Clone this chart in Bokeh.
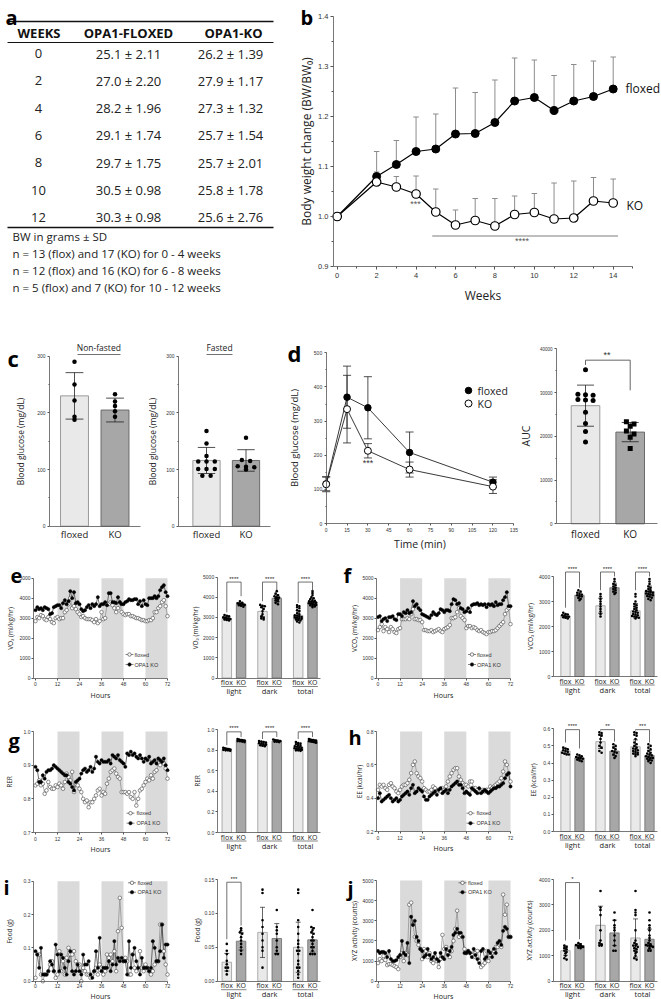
from bokeh.plotting import figure
from bokeh.layouts import column, row
from bokeh.models import Range1d, FixedTicker, PrintfTickFormatter
from bokeh.core.properties import value
from bokeh.embed import file_html
from bokeh.resources import INLINE

SANS = "Liberation Sans"
OPEN = "Open Sans"
LIGHT_FILL, LIGHT_LINE = "#e9e9e9", "#9b9b9b"
DARK_FILL, DARK_LINE = "#a7a7a7", "#6b6b6b"
BAND = "#dadada"

# ======================= DATA =======================
tbl_header = ["WEEKS", "OPA1-FLOXED", "OPA1-KO"]
tbl_weeks = [0, 2, 4, 6, 8, 10, 12]
tbl_flox_mean = [25.1, 27.0, 28.2, 29.1, 29.7, 30.5, 30.3]
tbl_flox_sd = [2.11, 2.20, 1.96, 1.74, 1.75, 0.98, 0.98]
tbl_ko_mean = [26.2, 27.9, 27.3, 25.7, 25.7, 25.8, 25.6]
tbl_ko_sd = [1.39, 1.17, 1.32, 1.54, 2.01, 1.78, 2.76]
tbl_notes = ["BW in grams \u00b1 SD",
             "n = 13 (flox) and 17 (KO) for 0 - 4 weeks",
             "n = 12 (flox) and 16 (KO) for 6 - 8 weeks",
             "n = 5 (flox) and 7 (KO) for 10 - 12 weeks"]

bw_weeks = [0, 2, 3, 4, 5, 6, 7, 8, 9, 10, 11, 12, 13, 14]
bw_flox = [1.00, 1.080, 1.104, 1.130, 1.135, 1.165, 1.166, 1.188, 1.231, 1.238, 1.212, 1.231, 1.240, 1.255]
bw_flox_err = [0.0, 0.050, 0.048, 0.069, 0.070, 0.092, 0.082, 0.085, 0.086, 0.075, 0.070, 0.073, 0.071, 0.064]
bw_ko = [1.00, 1.069, 1.059, 1.045, 1.009, 0.983, 0.992, 0.981, 1.004, 1.008, 0.995, 0.997, 1.031, 1.027]
bw_ko_err = [0.0, 0.020, 0.021, 0.036, 0.046, 0.030, 0.044, 0.055, 0.037, 0.038, 0.072, 0.074, 0.047, 0.048]

c_groups = ["floxed", "KO"]
c_nf_mean = [230, 205]
c_nf_sd = [41, 21]
c_nf_flox = [290, 250, 222, 193, 188]
c_nf_ko = [233, 220, 212, 203, 193]
c_f_mean = [116, 116]
c_f_sd = [23, 19]
c_f_flox = [168, 146, 124, 114, 114, 114, 101, 101, 101, 89, 89]
c_f_ko = [156, 117, 115, 106, 105, 104, 100]

d_time = [0, 15, 30, 60, 120]
d_flox = [116, 370, 339, 208, 121]
d_flox_sd = [20, 91, 91, 60, 15]
d_ko = [115, 335, 213, 158, 108]
d_ko_sd = [22, 99, 21, 22, 20]
auc_mean = [27000, 20960]
auc_sd = [4700, 2200]
auc_flox = [35200, 29600, 29500, 29400, 28400, 28300, 28200, 25500, 22900, 21100, 18700]
auc_ko = [23300, 22800, 22300, 21200, 20500, 19800, 17200]

hours = list(range(73))
dark_start = [12, 36, 60]
dark_len = 12

e_flox = [2850, 3050, 3000, 3150, 3100, 2950, 2900, 3050, 2950, 2800, 2750, 3000, 3050,
          2950, 3000, 3000, 3300, 3400, 3700, 4000, 3500, 3600, 3450, 3300, 3200,
          3050, 3100, 3000, 2950, 2950, 2950, 2900, 2800, 2950, 2750, 2850, 3300,
          2950, 3000, 3700, 3700, 3800, 3650, 3500, 3300, 3500, 3800, 3300, 3200,
          3150, 3200, 3200, 3100, 3100, 3050, 3000, 3000, 2950, 2900, 2900, 2850,
          2850, 2900, 2900, 3000, 3300, 3300, 3500, 3600, 3800, 3900, 3600, 3100]
e_ko = [3400, 3550, 3450, 3500, 3400, 3550, 3500, 3450, 3200, 3250, 3550, 3600, 3650,
        3650, 3500, 3750, 3900, 3700, 3850, 4350, 4000, 4300, 3750, 3800, 3700,
        3450, 3350, 3400, 3550, 3650, 3500, 3700, 3600, 3700, 4050, 3600, 3700,
        3700, 3800, 3650, 4250, 4250, 3800, 3800, 3750, 4050, 3800, 3700, 3700,
        3800, 3850, 3950, 3900, 3900, 3950, 3950, 3700, 3850, 3600, 3900, 3700,
        3650, 4000, 4000, 4000, 4100, 4000, 4100, 4400, 4550, 4650, 4300, 4100]
f_flox = [2400, 2550, 2700, 2350, 2550, 2450, 2300, 2550, 2450, 2300, 2250, 2450, 2500,
          2950, 2950, 2950, 3000, 2950, 3200, 3450, 2950, 2950, 2900, 2900, 2800,
          2400, 2400, 2350, 2350, 2400, 2300, 2350, 2400, 2450, 2350, 2300, 2450,
          2500, 2550, 2650, 3000, 3000, 3050, 3300, 3500, 3100, 3000, 2900, 2500,
          2600, 2600, 2500, 2550, 2500, 2400, 2350, 2400, 2300, 2250, 2200, 2300,
          2300, 2350, 2350, 2400, 2500, 2600, 2700, 2800, 3200, 3400, 3500, 2700]
f_ko = [3050, 3100, 2850, 2950, 3000, 2850, 3050, 3050, 3100, 2950, 2900, 3200, 3200,
        3100, 3300, 3250, 3400, 3250, 3300, 3850, 3600, 3700, 3500, 3400, 3200,
        3150, 3100, 3050, 3000, 3150, 3300, 3200, 3150, 3250, 3450, 3400, 3300,
        3400, 3400, 3350, 3700, 3950, 3900, 3700, 3750, 3500, 3450, 3300, 3350,
        3500, 3300, 3650, 3700, 3700, 3750, 3650, 3700, 3650, 3700, 3550, 3700,
        3650, 3700, 3600, 3800, 3650, 3700, 3700, 3900, 4050, 4300, 3600, 3600]
g_flox = [0.840, 0.845, 0.855, 0.840, 0.845, 0.815, 0.825, 0.850, 0.835, 0.830, 0.830, 0.840, 0.835,
          0.845, 0.840, 0.830, 0.850, 0.875, 0.865, 0.855, 0.880, 0.820, 0.845, 0.840, 0.830,
          0.820, 0.800, 0.790, 0.795, 0.775, 0.790, 0.790, 0.800, 0.810, 0.825, 0.830, 0.810,
          0.820, 0.815, 0.845, 0.860, 0.880, 0.885, 0.890, 0.875, 0.865, 0.860, 0.820, 0.820,
          0.820, 0.815, 0.820, 0.805, 0.800, 0.820, 0.780, 0.800, 0.825, 0.830, 0.840, 0.850,
          0.860, 0.855, 0.870, 0.860, 0.880, 0.885, 0.905, 0.900, 0.910, 0.905, 0.890, 0.860]
g_ko = [0.895, 0.885, 0.850, 0.850, 0.870, 0.860, 0.880, 0.885, 0.885, 0.890, 0.900, 0.895, 0.890,
        0.885, 0.880, 0.875, 0.870, 0.870, 0.850, 0.845, 0.835, 0.825, 0.850, 0.855, 0.860,
        0.875, 0.885, 0.890, 0.880, 0.885, 0.895, 0.880, 0.890, 0.925, 0.910, 0.905, 0.915,
        0.910, 0.910, 0.910, 0.915, 0.905, 0.930, 0.925, 0.920, 0.930, 0.915, 0.910, 0.905,
        0.895, 0.935, 0.930, 0.940, 0.930, 0.935, 0.925, 0.920, 0.930, 0.920, 0.910, 0.920,
        0.915, 0.925, 0.905, 0.910, 0.915, 0.905, 0.920, 0.915, 0.910, 0.920, 0.900, 0.885]
h_flox = [0.45, 0.48, 0.47, 0.48, 0.46, 0.45, 0.48, 0.49, 0.47, 0.46, 0.44, 0.43, 0.45,
          0.47, 0.48, 0.48, 0.49, 0.51, 0.55, 0.60, 0.62, 0.55, 0.53, 0.52, 0.50,
          0.46, 0.45, 0.44, 0.44, 0.45, 0.47, 0.46, 0.44, 0.45, 0.44, 0.46, 0.45,
          0.47, 0.50, 0.53, 0.55, 0.57, 0.58, 0.58, 0.53, 0.51, 0.49, 0.48, 0.48,
          0.47, 0.50, 0.50, 0.46, 0.46, 0.45, 0.44, 0.44, 0.45, 0.44, 0.45, 0.45,
          0.47, 0.46, 0.47, 0.48, 0.49, 0.50, 0.52, 0.56, 0.62, 0.60, 0.55, 0.50]
h_ko = [0.40, 0.43, 0.38, 0.39, 0.40, 0.41, 0.42, 0.40, 0.38, 0.39, 0.40, 0.38, 0.39,
        0.41, 0.42, 0.43, 0.44, 0.42, 0.46, 0.48, 0.43, 0.44, 0.46, 0.45, 0.44,
        0.41, 0.39, 0.39, 0.41, 0.42, 0.43, 0.44, 0.42, 0.45, 0.46, 0.43, 0.44,
        0.45, 0.43, 0.45, 0.47, 0.48, 0.49, 0.50, 0.48, 0.48, 0.46, 0.43, 0.44,
        0.43, 0.42, 0.46, 0.45, 0.44, 0.43, 0.46, 0.43, 0.44, 0.45, 0.44, 0.43,
        0.44, 0.45, 0.46, 0.46, 0.47, 0.47, 0.48, 0.49, 0.52, 0.54, 0.55, 0.47]
i_flox = [0.01, 0.08, 0.08, 0.02, 0.00, 0.02, 0.02, 0.03, 0.05, 0.06, 0.03, 0.01, 0.02,
          0.09, 0.03, 0.06, 0.02, 0.07, 0.10, 0.08, 0.08, 0.09, 0.06, 0.05, 0.05,
          0.00, 0.04, 0.03, 0.02, 0.02, 0.01, 0.02, 0.03, 0.04, 0.02, 0.05, 0.04,
          0.02, 0.03, 0.08, 0.07, 0.08, 0.06, 0.09, 0.03, 0.15, 0.25, 0.16, 0.06,
          0.07, 0.06, 0.02, 0.02, 0.08, 0.04, 0.03, 0.04, 0.09, 0.04, 0.03, 0.05,
          0.04, 0.03, 0.02, 0.03, 0.05, 0.06, 0.06, 0.17, 0.17, 0.09, 0.05, 0.02]
i_ko = [0.09, 0.08, 0.04, 0.10, 0.02, 0.02, 0.02, 0.03, 0.06, 0.05, 0.03, 0.11, 0.08,
        0.03, 0.08, 0.07, 0.04, 0.02, 0.06, 0.09, 0.03, 0.02, 0.03, 0.05, 0.03,
        0.02, 0.08, 0.05, 0.05, 0.06, 0.02, 0.01, 0.03, 0.09, 0.04, 0.13, 0.03,
        0.04, 0.04, 0.04, 0.06, 0.03, 0.05, 0.12, 0.05, 0.07, 0.06, 0.07, 0.06,
        0.06, 0.02, 0.12, 0.04, 0.08, 0.10, 0.06, 0.04, 0.02, 0.07, 0.04, 0.04,
        0.04, 0.03, 0.04, 0.12, 0.10, 0.06, 0.06, 0.09, 0.17, 0.07, 0.11, 0.11]
j_flox = [900, 1100, 1000, 1250, 1050, 800, 850, 850, 800, 750, 700, 600, 1200,
          1400, 1000, 1400, 1300, 3800, 3900, 2800, 2200, 2000, 1800, 1600, 1100,
          1600, 1500, 1200, 1400, 1000, 900, 1200, 1000, 700, 1100, 2300, 1600,
          1700, 1400, 1200, 1500, 2000, 2600, 3500, 2200, 2300, 2200, 1600, 1400,
          1500, 1400, 1300, 1200, 1400, 1500, 1000, 700, 800, 900, 1500, 1000,
          1300, 1400, 1500, 1700, 1700, 1800, 1700, 4300, 3300, 3800, 2200, 2200]
j_ko = [1500, 1400, 1450, 1450, 1400, 1200, 1500, 1100, 1000, 1000, 1050, 1200, 1300,
        2000, 1400, 1300, 1900, 900, 3200, 2800, 3000, 2200, 2000, 1600, 1500,
        1200, 1300, 1600, 1300, 1100, 1200, 1400, 1100, 1000, 1400, 1200, 1100,
        1600, 1300, 1500, 1700, 2300, 2400, 2600, 2400, 2400, 2200, 1400, 1400,
        1500, 1400, 1200, 1600, 1300, 1100, 900, 1500, 1600, 1100, 1200, 1500,
        1400, 1200, 1600, 1400, 1900, 2000, 1800, 2500, 2700, 2600, 2200, 2200]

bar_tick_labels = ["flox", "KO", "flox", "KO", "flox", "KO"]
phase_labels = ["light", "dark", "total"]

e_mean = [2950, 3650, 3300, 3950, 3100, 3760]
e_sd = [90, 70, 270, 180, 240, 190]
e_dots = [[3120, 3080, 3050, 3000, 2980, 2960, 2940, 2920, 2900, 2870, 2850],
          [3800, 3720, 3700, 3690, 3670, 3650, 3640, 3620, 3600, 3580, 3530],
          [3620, 3580, 3550, 3500, 3420, 3300, 3150, 3050, 2980, 2950, 2900],
          [4300, 4180, 4100, 4050, 4000, 3980, 3950, 3900, 3850, 3800, 3720, 3650],
          [3600, 3550, 3500, 3450, 3350, 3300, 3200, 3150, 3100, 3080, 3050, 3020, 3000, 2980, 2950, 2930, 2900, 2880, 2850, 2800, 2750],
          [4300, 4200, 4100, 4000, 3950, 3900, 3850, 3820, 3800, 3780, 3750, 3730, 3700, 3680, 3660, 3640, 3620, 3600, 3570, 3540, 3500]]
e_sig = ["****", "****", "****"]
e_sig_y = 4750
e_sig_left = [3250, 3800, 3720]
e_sig_right = [4050, 4350, 4300]

f_mean = [2420, 3250, 2830, 3550, 2630, 3400]
f_sd = [70, 120, 300, 180, 290, 220]
f_dots = [[2550, 2500, 2480, 2450, 2430, 2400, 2390, 2370, 2350, 2320],
          [3450, 3400, 3350, 3300, 3280, 3250, 3220, 3200, 3150, 3100, 3050],
          [3300, 3200, 3100, 3000, 2900, 2800, 2700, 2600, 2500, 2400],
          [3900, 3800, 3700, 3650, 3600, 3550, 3500, 3450, 3400, 3350, 3300],
          [3300, 3200, 3000, 2900, 2850, 2800, 2750, 2700, 2650, 2600, 2580, 2550, 2500, 2480, 2450, 2420, 2400, 2380, 2350, 2320],
          [3900, 3800, 3700, 3600, 3550, 3500, 3450, 3420, 3400, 3380, 3350, 3320, 3300, 3280, 3250, 3220, 3200, 3150, 3100, 3050]]
f_sig = ["****", "****", "****"]
f_sig_y = 4180
f_sig_left = [2750, 3450, 3450]
f_sig_right = [3550, 4000, 4000]

g_mean = [0.81, 0.895, 0.865, 0.89, 0.83, 0.89]
g_sd = [0.01, 0.01, 0.02, 0.01, 0.03, 0.01]
g_dots = [[0.825, 0.82, 0.815, 0.812, 0.81, 0.808, 0.805, 0.80, 0.80, 0.795],
          [0.91, 0.905, 0.90, 0.90, 0.895, 0.895, 0.89, 0.89, 0.885, 0.88],
          [0.89, 0.885, 0.88, 0.875, 0.87, 0.865, 0.86, 0.855, 0.85, 0.845, 0.84],
          [0.905, 0.90, 0.895, 0.895, 0.89, 0.89, 0.885, 0.885, 0.88],
          [0.88, 0.87, 0.865, 0.86, 0.85, 0.845, 0.84, 0.835, 0.83, 0.825, 0.82, 0.815, 0.81, 0.81, 0.805, 0.80, 0.80, 0.795],
          [0.91, 0.905, 0.90, 0.90, 0.895, 0.895, 0.89, 0.89, 0.89, 0.885, 0.885, 0.88, 0.88, 0.875]]
g_sig = ["****", "****", "****"]
g_sig_y = 0.98
g_sig_left = [0.85, 0.91, 0.91]
g_sig_right = [0.93, 0.93, 0.93]

h_mean = [0.47, 0.43, 0.525, 0.47, 0.495, 0.445]
h_sd = [0.015, 0.01, 0.04, 0.025, 0.04, 0.03]
h_dots = [[0.49, 0.485, 0.48, 0.475, 0.47, 0.465, 0.46, 0.455, 0.45, 0.45],
          [0.45, 0.445, 0.44, 0.435, 0.43, 0.43, 0.425, 0.42, 0.415, 0.41],
          [0.58, 0.575, 0.565, 0.56, 0.54, 0.52, 0.50, 0.49, 0.47, 0.46],
          [0.51, 0.50, 0.49, 0.48, 0.47, 0.465, 0.46, 0.45, 0.44, 0.43],
          [0.58, 0.575, 0.565, 0.56, 0.54, 0.52, 0.51, 0.50, 0.49, 0.485, 0.48, 0.475, 0.47, 0.465, 0.46, 0.455, 0.45, 0.45, 0.44],
          [0.51, 0.50, 0.49, 0.48, 0.47, 0.46, 0.455, 0.45, 0.445, 0.44, 0.435, 0.43, 0.43, 0.425, 0.42, 0.415, 0.41, 0.40]]
h_sig = ["****", "**", "***"]
h_sig_y = 0.595
h_sig_left = [0.52, 0.59, 0.59]
h_sig_right = [0.485, 0.525, 0.52]

i_mean = [0.028, 0.059, 0.072, 0.063, 0.050, 0.061]
i_sd = [0.013, 0.013, 0.037, 0.022, 0.037, 0.018]
i_dots = [[0.055, 0.045, 0.04, 0.03, 0.025, 0.02, 0.02, 0.015, 0.01],
          [0.078, 0.075, 0.072, 0.07, 0.065, 0.06, 0.055, 0.05, 0.045, 0.04],
          [0.135, 0.13, 0.09, 0.08, 0.07, 0.06, 0.05, 0.045, 0.02],
          [0.105, 0.08, 0.075, 0.07, 0.06, 0.05, 0.045, 0.04, 0.04],
          [0.135, 0.13, 0.09, 0.08, 0.07, 0.06, 0.055, 0.05, 0.045, 0.045, 0.04, 0.03, 0.025, 0.02, 0.02, 0.015, 0.01, 0.005],
          [0.105, 0.08, 0.078, 0.075, 0.072, 0.07, 0.065, 0.06, 0.06, 0.055, 0.05, 0.05, 0.045, 0.04, 0.04, 0.04]]
i_sig = ["***", "", ""]
i_sig_y = 0.146
i_sig_left = [0.062, 0, 0]
i_sig_right = [0.082, 0, 0]

j_mean = [1200, 1400, 2200, 1900, 1700, 1650]
j_sd = [180, 80, 750, 500, 750, 400]
j_dots = [[1400, 1350, 1300, 1250, 1200, 1150, 1100, 1000, 900, 850],
          [1500, 1450, 1420, 1400, 1400, 1380, 1350, 1320, 1300],
          [3550, 2900, 2800, 2600, 2000, 1600, 1500, 1450, 1400, 1400],
          [2700, 2400, 2200, 2100, 2000, 1800, 1600, 1400, 1200, 1200],
          [3550, 2800, 2700, 2600, 2000, 1600, 1500, 1450, 1400, 1400, 1350, 1300, 1250, 1200, 1150, 1100, 1000, 900, 850],
          [2700, 2400, 2200, 2100, 2000, 1800, 1700, 1600, 1500, 1450, 1420, 1400, 1400, 1380, 1350, 1300, 1200, 1200]]
j_sig = ["*", "", ""]
j_sig_y = 3880
j_sig_left = [1600, 0, 0]
j_sig_right = [1650, 0, 0]

# ======================= HELPERS =======================
BAR_X = [2, 4, 7, 9, 12, 14]
PHASE_X = [3, 8, 13]


def lin(v1, p1, v2, p2):
    k = (v2 - v1) / float(p2 - p1)
    return (lambda px: v1 + (px - p1) * k), (lambda v: p1 + (v - v1) / k)


def mk(X0, Y0, W, H, xm, ym, **kw):
    """figure whose whole canvas is the frame; xm/ym = (value1, pixel1, value2, pixel2)"""
    fx, gx = lin(*xm)
    fy, gy = lin(*ym)
    p = figure(width=W, height=H, x_range=Range1d(fx(X0), fx(X0 + W)),
               y_range=Range1d(fy(Y0 + H), fy(Y0)), output_backend="svg",
               toolbar_location=None, min_border=0, **kw)
    p.outline_line_color = None
    p.xgrid.visible = False
    p.ygrid.visible = False
    return p, fx, fy, gx, gy


def axes(p, xaxis_y, yaxis_x, xb, yb, xticks, yticks, xminor=(), yminor=(), xfmt=None, yfmt=None,
         xlabel=None, ylabel=None, tick_size="5px", xlab_size="7px", ylab_size="6.5px",
         x_tick_out=2, y_tick_out=2, x_so=2, y_so=1, x_als=1, y_als=1,
         x_overrides=None, x_tick_font=SANS, x_tick_size=None):
    xa, ya = p.xaxis[0], p.yaxis[0]
    xa.fixed_location = xaxis_y
    ya.fixed_location = yaxis_x
    xa.bounds = (min(xb), max(xb))
    ya.bounds = (min(yb), max(yb))
    xa.ticker = FixedTicker(ticks=list(xticks), minor_ticks=list(xminor))
    ya.ticker = FixedTicker(ticks=list(yticks), minor_ticks=list(yminor))
    if xfmt:
        xa.formatter = PrintfTickFormatter(format=xfmt)
    if yfmt:
        ya.formatter = PrintfTickFormatter(format=yfmt)
    if x_overrides:
        xa.major_label_overrides = x_overrides
    for ax in (xa, ya):
        ax.axis_line_color = "#555"
        ax.axis_line_width = 0.8
        ax.major_tick_line_color = "#555"
        ax.minor_tick_line_color = "#555"
        ax.major_tick_in = 0
        ax.minor_tick_in = 0
        ax.minor_tick_out = 1
        ax.major_label_text_font = SANS
        ax.major_label_text_font_size = tick_size
        ax.major_label_text_color = "#333"
        ax.axis_label_text_font = OPEN
        ax.axis_label_text_font_style = "normal"
        ax.axis_label_text_color = "#222"
    xa.major_tick_out = int(x_tick_out)
    ya.major_tick_out = int(y_tick_out)
    xa.major_label_standoff = int(x_so)
    ya.major_label_standoff = int(y_so)
    xa.axis_label_standoff = int(x_als)
    ya.axis_label_standoff = int(y_als)
    xa.major_label_text_font = x_tick_font
    if x_tick_size:
        xa.major_label_text_font_size = x_tick_size
    if xlabel:
        xa.axis_label = xlabel
        xa.axis_label_text_font_size = xlab_size
    if ylabel:
        ya.axis_label = ylabel
        ya.axis_label_text_font_size = ylab_size


def txt(p, x, y, s, size, font=OPEN, bold=False, align="center", baseline="middle", color="#222"):
    p.text(x=[x], y=[y], text=[s], text_font=value(font), text_font_size=size,
           text_font_style="bold" if bold else "normal", text_align=align,
           text_baseline=baseline, text_color=color)


def swarm(vals, tol, step, maxspan):
    order = sorted(range(len(vals)), key=lambda i: -vals[i])
    offs = [0.0] * len(vals)
    groups = []
    for i in order:
        if groups and abs(vals[groups[-1][0]] - vals[i]) <= tol:
            groups[-1].append(i)
        else:
            groups.append([i])
    for g in groups:
        n = len(g)
        st = step if n == 1 else min(step, maxspan / (n - 1))
        for k, i in enumerate(g):
            offs[i] = (k - (n - 1) / 2) * st
    return offs


def ts_panel(X0, Y0, W, H, xm, ym, yaxis_px, ylo, yhi, yticks, fmt, flox, ko, ylabel, y_als,
             leg_px, text_px, leg_py, letter, letter_px, letter_py, x_so=2, x_als=1):
    p, fx, fy, gx, gy = mk(X0, Y0, W, H, xm, ym)
    p.quad(left=dark_start, right=[s + dark_len for s in dark_start], bottom=ylo, top=yhi,
           fill_color=BAND, line_color=None)
    p.line(hours, flox, line_color="#8a8a8a", line_width=0.7)
    p.line(hours, ko, line_color="#333333", line_width=0.7)
    p.scatter(hours, flox, size=3.6, fill_color="white", line_color="#444", line_width=0.6)
    p.scatter(hours, ko, size=3.3, fill_color="black", line_color="black", line_width=0.4)
    for py, fill, name in [(leg_py[0], "white", "floxed"), (leg_py[1], "black", "OPA1 KO")]:
        p.segment(x0=[fx(leg_px - 4)], y0=[fy(py)], x1=[fx(leg_px + 4)], y1=[fy(py)],
                  line_color="#555", line_width=0.7)
        p.scatter([fx(leg_px)], [fy(py)], size=3.5, fill_color=fill, line_color="#333", line_width=0.6)
        txt(p, fx(text_px), fy(py), name, "5.5px", SANS, align="left", color="#333")
    yx = fx(yaxis_px)
    axes(p, ylo, yx, (yx, 72.2), (ylo, yhi), [0, 12, 24, 36, 48, 60, 72], yticks, yfmt=fmt,
         xlabel="Hours", ylabel=ylabel, y_als=y_als, x_so=x_so, x_als=x_als)
    txt(p, fx(letter_px), fy(letter_py), letter, "20px", OPEN, bold=True, align="left",
        baseline="alphabetic", color="#000")
    return p


def bar_panel(X0, Y0, W, H, xm, ym, yaxis_px, xend_px, ytop, yticks, fmt, means, sds, dots,
              sig, sig_y, sig_l, sig_r, ylabel, y_als):
    p, fx, fy, gx, gy = mk(X0, Y0, W, H, xm, ym)
    p.vbar(x=BAR_X, top=means, bottom=0, width=1.33,
           fill_color=[LIGHT_FILL, DARK_FILL] * 3, line_color=[LIGHT_LINE, DARK_LINE] * 3, line_width=0.8)
    lo = [m - s for m, s in zip(means, sds)]
    hi = [m + s for m, s in zip(means, sds)]
    p.segment(x0=BAR_X, y0=lo, x1=BAR_X, y1=hi, line_color="#222", line_width=0.7)
    p.segment(x0=[x - 0.35 for x in BAR_X], y0=hi, x1=[x + 0.35 for x in BAR_X], y1=hi,
              line_color="#222", line_width=0.7)
    p.segment(x0=[x - 0.35 for x in BAR_X], y0=lo, x1=[x + 0.35 for x in BAR_X], y1=lo,
              line_color="#222", line_width=0.7)
    tol = ytop * 0.018
    for x, vals in zip(BAR_X, dots):
        offs = swarm(vals, tol, 0.32, 1.0)
        p.scatter([x + o for o in offs], vals, size=2.6, fill_color="black", line_color=None)
    for k, s in enumerate(sig):
        if not s:
            continue
        x0, x1 = BAR_X[2 * k], BAR_X[2 * k + 1]
        p.multi_line(xs=[[x0, x0, x1, x1]], ys=[[sig_l[k], sig_y, sig_y, sig_r[k]]],
                     line_color="#333", line_width=0.7)
        txt(p, (x0 + x1) / 2.0, fy(gy(sig_y) - 0.5), s, "6px", SANS, baseline="bottom", color="#222")
    base = gy(0)
    for px_, s in zip(PHASE_X, phase_labels):
        p.segment(x0=[px_ - 1.8], y0=[fy(base + 8.5)], x1=[px_ + 1.75], y1=[fy(base + 8.5)],
                  line_color="#333", line_width=0.6)
        txt(p, px_, fy(base + 13), s, "7.5px", OPEN, color="#222")
    yx = fx(yaxis_px)
    axes(p, 0, yx, (yx, fx(xend_px)), (0, ytop), BAR_X, yticks, yfmt=fmt, ylabel=ylabel, y_als=y_als,
         x_tick_out=0, x_so=0, x_overrides={x: lab for x, lab in zip(BAR_X, bar_tick_labels)},
         x_tick_font=OPEN, x_tick_size="7px")
    p.xaxis[0].major_label_text_color = "#222"
    return p


# ======================= ROW A (0-305) =======================
pa, _, _, _, _ = mk(0, 0, 298, 305, (0, 0, 1, 1), (0, 0, 1, 1),
                    x_axis_location=None, y_axis_location=None)
pa.segment(x0=[7, 7, 7], y0=[21, 42, 227], x1=[273, 273, 273], y1=[21, 42, 227],
           line_color="#111", line_width=[1.6, 1.0, 1.6])
pa.text(x=[38.5, 128, 233], y=[32, 32, 32], text=tbl_header, text_font=value(OPEN), text_font_size="13px",
        text_font_style="bold", text_align="center", text_baseline="middle", text_color="#111")
n_rows = len(tbl_weeks)
row_y = [53 + 27.3 * i for i in range(n_rows)]
pa.text(x=[38] * n_rows, y=row_y, text=[str(w) for w in tbl_weeks], text_font=value(OPEN),
        text_font_size="13px", text_align="center", text_baseline="middle", text_color="#222")
pa.text(x=[128] * n_rows, y=row_y,
        text=["%.1f \u00b1 %.2f" % (m, s) for m, s in zip(tbl_flox_mean, tbl_flox_sd)],
        text_font=value(OPEN), text_font_size="13px", text_align="center", text_baseline="middle",
        text_color="#222")
pa.text(x=[230] * n_rows, y=row_y,
        text=["%.1f \u00b1 %.2f" % (m, s) for m, s in zip(tbl_ko_mean, tbl_ko_sd)],
        text_font=value(OPEN), text_font_size="13px", text_align="center", text_baseline="middle",
        text_color="#222")
pa.text(x=[12] * len(tbl_notes), y=[236 + 17 * i for i in range(len(tbl_notes))], text=tbl_notes,
        text_font=value(OPEN), text_font_size="11.5px", text_align="left", text_baseline="middle",
        text_color="#222")
txt(pa, 5, 17, "a", "20px", OPEN, bold=True, align="left", baseline="alphabetic", color="#000")

pb, bfx, bfy, bgx, bgy = mk(298, 0, 363, 305, (0, 336.7, 14, 612.7), (1.0, 216, 1.4, 16))
pb.segment(x0=[4.82], y0=[0.961], x1=[14.24], y1=[0.961], line_color="#a8a8a8", line_width=1.6)
txt(pb, 3.97, 1.025, "***", "9px", SANS, color="#555")
txt(pb, 9.38, 0.952, "****", "9px", SANS, color="#555")
for ys, errs in [(bw_flox, bw_flox_err), (bw_ko, bw_ko_err)]:
    xs = [w for w, e in zip(bw_weeks, errs) if e > 0]
    ys2 = [y for y, e in zip(ys, errs) if e > 0]
    tops = [y + e for y, e in zip(ys, errs) if e > 0]
    pb.segment(x0=xs, y0=ys2, x1=xs, y1=tops, line_color="#8c8c8c", line_width=1)
    pb.segment(x0=[x - 0.14 for x in xs], y0=tops, x1=[x + 0.14 for x in xs], y1=tops,
               line_color="#8c8c8c", line_width=1)
pb.line(bw_weeks, bw_flox, line_color="black", line_width=1.2)
pb.line(bw_weeks, bw_ko, line_color="black", line_width=1.2)
pb.scatter(bw_weeks, bw_flox, size=8, fill_color="black", line_color="black")
pb.scatter(bw_weeks, bw_ko, size=8.5, fill_color="white", line_color="black", line_width=1.2)
b_yx = bfx(333)
axes(pb, 0.9, b_yx, (b_yx, bfx(632)), (0.9, 1.4), [0, 2, 4, 6, 8, 10, 12, 14],
     [0.9, 1.0, 1.1, 1.2, 1.3, 1.4], xminor=[1, 3, 5, 7, 9, 11, 13, 15],
     yminor=[0.95, 1.05, 1.15, 1.25, 1.35], yfmt="%.1f", xlabel="Weeks",
     ylabel="Body weight change (BW/BW\u2080)", tick_size="7.5px", xlab_size="12px", ylab_size="12px",
     x_tick_out=3, y_tick_out=3, x_so=3, y_so=2, x_als=6, y_als=0)
pb.xaxis[0].minor_tick_out = 2
pb.yaxis[0].minor_tick_out = 2
txt(pb, bfx(625), 1.256, "floxed", "12px", OPEN, align="left", color="#111")
txt(pb, bfx(626), 1.022, "KO", "12px", OPEN, align="left", color="#111")
txt(pb, bfx(300), bfy(17), "b", "20px", OPEN, bold=True, align="left", baseline="alphabetic", color="#000")

# ======================= ROW B (305-550) =======================
RB_Y, RB_H = 305, 245


def c_panel(X0, W, xm, yaxis_px, xend_px, title, title_px, ul, means, sds, flox_dots, ko_dots, y_als):
    p, fx, fy, gx, gy = mk(X0, RB_Y, W, RB_H, xm, (0, 525.7, 300, 355.7))
    p.vbar(x=[1, 2], top=means, width=0.69, fill_color=[LIGHT_FILL, DARK_FILL],
           line_color=[LIGHT_LINE, DARK_LINE], line_width=1)
    lo = [m - s for m, s in zip(means, sds)]
    hi = [m + s for m, s in zip(means, sds)]
    p.segment(x0=[1, 2], y0=lo, x1=[1, 2], y1=hi, line_color="#222", line_width=0.8)
    p.segment(x0=[0.78, 1.78], y0=hi, x1=[1.22, 2.22], y1=hi, line_color="#222", line_width=0.8)
    p.segment(x0=[0.78, 1.78], y0=lo, x1=[1.22, 2.22], y1=lo, line_color="#222", line_width=0.8)
    for x, vals in [(1, flox_dots), (2, ko_dots)]:
        offs = swarm(vals, 4, 0.21, 0.45)
        p.scatter([x + o for o in offs], vals, size=4.5, fill_color="black", line_color=None)
    yx = fx(yaxis_px)
    axes(p, 0, yx, (yx, fx(xend_px)), (0, 300), [1, 2], [0, 100, 200, 300], yminor=[50, 150, 250],
         ylabel="Blood glucose (mg/dL)", ylab_size="8.5px", y_als=y_als, y_so=2,
         x_tick_out=0, x_so=2, x_overrides={1: c_groups[0], 2: c_groups[1]},
         x_tick_font=OPEN, x_tick_size="9.5px")
    p.xaxis[0].major_label_text_color = "#222"
    txt(p, fx(title_px), fy(352.5), title, "8.5px", OPEN, baseline="bottom", color="#222")
    p.segment(x0=[fx(ul[0])], y0=[fy(354)], x1=[fx(ul[1])], y1=[fy(354)], line_color="#333", line_width=0.7)
    return p, fx, fy


pc1, c1fx, c1fy = c_panel(0, 148, (1, 74, 2, 114.5), 49, 140, "Non-fasted", 98.3, (77, 120),
                          c_nf_mean, c_nf_sd, c_nf_flox, c_nf_ko, 8)
txt(pc1, c1fx(7), c1fy(357), "c", "22px", OPEN, bold=True, align="left", baseline="alphabetic", color="#000")
pc2, _, _ = c_panel(148, 137, (1, 206, 2, 245.5), 178, 270, "Fasted", 219, (206, 232),
                    c_f_mean, c_f_sd, c_f_flox, c_f_ko, 5)

pd, dfx, dfy, dgx, dgy = mk(285, RB_Y, 235, RB_H, (0, 325.7, 135, 513.3), (0, 523, 500, 352.3))
for ys, sds in [(d_flox, d_flox_sd), (d_ko, d_ko_sd)]:
    lo = [m - s for m, s in zip(ys, sds)]
    hi = [m + s for m, s in zip(ys, sds)]
    pd.segment(x0=d_time, y0=lo, x1=d_time, y1=hi, line_color="#222", line_width=0.8)
    pd.segment(x0=[t - 2.9 for t in d_time], y0=hi, x1=[t + 2.9 for t in d_time], y1=hi,
               line_color="#222", line_width=0.8)
    pd.segment(x0=[t - 2.9 for t in d_time], y0=lo, x1=[t + 2.9 for t in d_time], y1=lo,
               line_color="#222", line_width=0.8)
pd.line(d_time, d_flox, line_color="#222", line_width=0.9)
pd.line(d_time, d_ko, line_color="#222", line_width=0.9)
pd.scatter(d_time, d_flox, size=6.5, fill_color="black", line_color="black")
pd.scatter(d_time, d_ko, size=7, fill_color="white", line_color="black", line_width=1)
txt(pd, 30, 176, "***", "9px", SANS, color="#333")
pd.scatter([dfx(468)], [dfy(390)], size=6.5, fill_color="black", line_color="black")
pd.scatter([dfx(468)], [dfy(403)], size=7, fill_color="white", line_color="black", line_width=1)
txt(pd, dfx(477), dfy(390), "floxed", "10.5px", OPEN, align="left")
txt(pd, dfx(477), dfy(403), "KO", "10.5px", OPEN, align="left")
axes(pd, 0, 0, (0, 135), (0, 500), [0, 15, 30, 45, 60, 75, 90, 105, 120, 135], [0, 100, 200, 300, 400, 500],
     yminor=[50, 150, 250, 350, 450], xlabel="Time (min)", ylabel="Blood glucose (mg/dL)",
     xlab_size="10.5px", ylab_size="9.5px", x_so=2, y_so=2, x_als=2, y_als=10)
txt(pd, dfx(287), dfy(352), "d", "22px", OPEN, bold=True, align="left", baseline="alphabetic", color="#000")

pauc, afx, afy, agx, agy = mk(520, RB_Y, 141, RB_H, (1, 585, 2, 629.7), (0, 523.3, 40000, 348.3))
pauc.vbar(x=[1, 2], top=auc_mean, width=0.64, fill_color=[LIGHT_FILL, DARK_FILL],
          line_color=[LIGHT_LINE, DARK_LINE], line_width=1)
lo = [m - s for m, s in zip(auc_mean, auc_sd)]
hi = [m + s for m, s in zip(auc_mean, auc_sd)]
pauc.segment(x0=[1, 2], y0=lo, x1=[1, 2], y1=hi, line_color="#222", line_width=0.8)
pauc.segment(x0=[0.81, 1.81], y0=hi, x1=[1.19, 2.19], y1=hi, line_color="#222", line_width=0.8)
pauc.segment(x0=[0.81, 1.81], y0=lo, x1=[1.19, 2.19], y1=lo, line_color="#222", line_width=0.8)
offs = swarm(auc_flox, 700, 0.17, 0.5)
pauc.scatter([1 + o for o in offs], auc_flox, size=5, fill_color="black", line_color=None)
offs = swarm(auc_ko, 700, 0.17, 0.5)
pauc.scatter([2 + o for o in offs], auc_ko, size=5, marker="square", fill_color="black", line_color=None)
pauc.multi_line(xs=[[1, 1, 2, 2]], ys=[[36300, 37400, 37400, 30500]], line_color="#555", line_width=0.9)
txt(pauc, 1.48, 38600, "**", "9px", SANS, color="#333")
a_yx = afx(556)
axes(pauc, 0, a_yx, (a_yx, afx(657)), (0, 40000), [1, 2], [0, 10000, 20000, 30000, 40000],
     yminor=[5000, 15000, 25000, 35000], ylabel="AUC", tick_size="4.5px", ylab_size="10.5px",
     y_so=2, y_als=4, x_tick_out=0, x_so=3, x_overrides={1: c_groups[0], 2: c_groups[1]},
     x_tick_font=OPEN, x_tick_size="10px")
pauc.xaxis[0].major_label_text_color = "#222"

# ======================= ROWS C-E =======================
XM_LTS = (0, 35, 72, 167)
XM_LBR = (2, 226.3, 14, 312)
XM_RTS = (0, 377.5, 72, 510)
XM_RBR = (2, 565, 14, 649)
kilo5 = [0, 1000, 2000, 3000, 4000, 5000]
kilo4 = [0, 1000, 2000, 3000, 4000]
RC_Y, RC_H = 550, 155
RD_Y, RD_H = 705, 152
RE_Y, RE_H = 857, 142
W1, W2, W3, W4 = 186, 142, 197, 136
X1, X2, X3, X4 = 0, 186, 328, 525

pe1 = ts_panel(X1, RC_Y, W1, RC_H, XM_LTS, (0, 677.5, 5000, 577.7), 33, 0, 5000, kilo5, None, e_flox, e_ko,
               "VO\u2082 (ml/kg/hr)", 1, 129, 134, [654, 664], "e", 10, 575)
pe2 = bar_panel(X2, RC_Y, W2, RC_H, XM_LBR, (0, 677.5, 5000, 576.5), 216.7, 320, 5000, kilo5, None,
                e_mean, e_sd, e_dots, e_sig, e_sig_y, e_sig_left, e_sig_right, "VO\u2082 (ml/kg/hr)", 0)
pf1 = ts_panel(X3, RC_Y, W3, RC_H, XM_RTS, (0, 677.5, 5000, 577.7), 376, 0, 5000, kilo5, None, f_flox, f_ko,
               "VCO\u2082 (ml/kg/hr)", 0, 471.5, 476.5, [654, 664], "f", 343, 575)
pf2 = bar_panel(X4, RC_Y, W4, RC_H, XM_RBR, (0, 676, 4000, 576), 552.7, 657, 4000, kilo4, None,
                f_mean, f_sd, f_dots, f_sig, f_sig_y, f_sig_left, f_sig_right, "VCO\u2082 (ml/kg/hr)", 1)

pg1 = ts_panel(X1, RD_Y, W1, RD_H, XM_LTS, (0.7, 832, 1.0, 731), 33, 0.7, 1.0, [0.7, 0.8, 0.9, 1.0], "%.1f",
               g_flox, g_ko, "RER", 7, 130, 136, [812.7, 822.7], "g", 8, 740)
pg2 = bar_panel(X2, RD_Y, W2, RD_H, XM_LBR, (0, 832, 1.0, 729.3), 216.7, 320, 1.0,
                [0, 0.2, 0.4, 0.6, 0.8, 1.0], "%.1f", g_mean, g_sd, g_dots, g_sig, g_sig_y,
                g_sig_left, g_sig_right, "RER", 3)
ph1 = ts_panel(X3, RD_Y, W3, RD_H, XM_RTS, (0.2, 831, 0.8, 731), 376, 0.2, 0.8, [0.2, 0.4, 0.6, 0.8], "%.1f",
               h_flox, h_ko, "EE (kcal/hr)", 0, 470, 476, [812.7, 822.7], "h", 348, 737)
ph2 = bar_panel(X4, RD_Y, W4, RD_H, XM_RBR, (0, 831, 0.6, 728.3), 552.7, 657, 0.6,
                [0, 0.1, 0.2, 0.3, 0.4, 0.5, 0.6], "%.1f", h_mean, h_sd, h_dots, h_sig, h_sig_y,
                h_sig_left, h_sig_right, "EE (kcal/hr)", 3)

pi1 = ts_panel(X1, RE_Y, W1, RE_H, XM_LTS, (0, 980.7, 0.3, 880.7), 33, 0, 0.3, [0, 0.1, 0.2, 0.3], "%.1f",
               i_flox, i_ko, "Food (g)", 7, 131.5, 137, [882.3, 891.7], "i", 3, 887, x_so=1, x_als=0)
pi2 = bar_panel(X2, RE_Y, W2, RE_H, XM_LBR, (0, 980.7, 0.15, 879), 216.7, 320, 0.15,
                [0, 0.05, 0.10, 0.15], "%.2f", i_mean, i_sd, i_dots, i_sig, i_sig_y,
                i_sig_left, i_sig_right, "Food (g)", 0)
pj1 = ts_panel(X3, RE_Y, W3, RE_H, XM_RTS, (0, 980.7, 5000, 880), 376, 0, 5000, kilo5, None,
               j_flox, j_ko, "XYZ activity (counts)", 0, 462, 467.5, [882.3, 891.7], "j", 347, 888,
               x_so=1, x_als=0)
pj2 = bar_panel(X4, RE_Y, W4, RE_H, XM_RBR, (0, 980.7, 4000, 879), 552.7, 657, 4000, kilo4, None,
                j_mean, j_sd, j_dots, j_sig, j_sig_y, j_sig_left, j_sig_right, "XYZ activity (counts)", 2)

layout = column(
    row(pa, pb),
    row(pc1, pc2, pd, pauc),
    row(pe1, pe2, pf1, pf2),
    row(pg1, pg2, ph1, ph2),
    row(pi1, pi2, pj1, pj2),
)

open("out.html", "w").write(file_html(layout, INLINE, "OPA1 KO phenotype"))
